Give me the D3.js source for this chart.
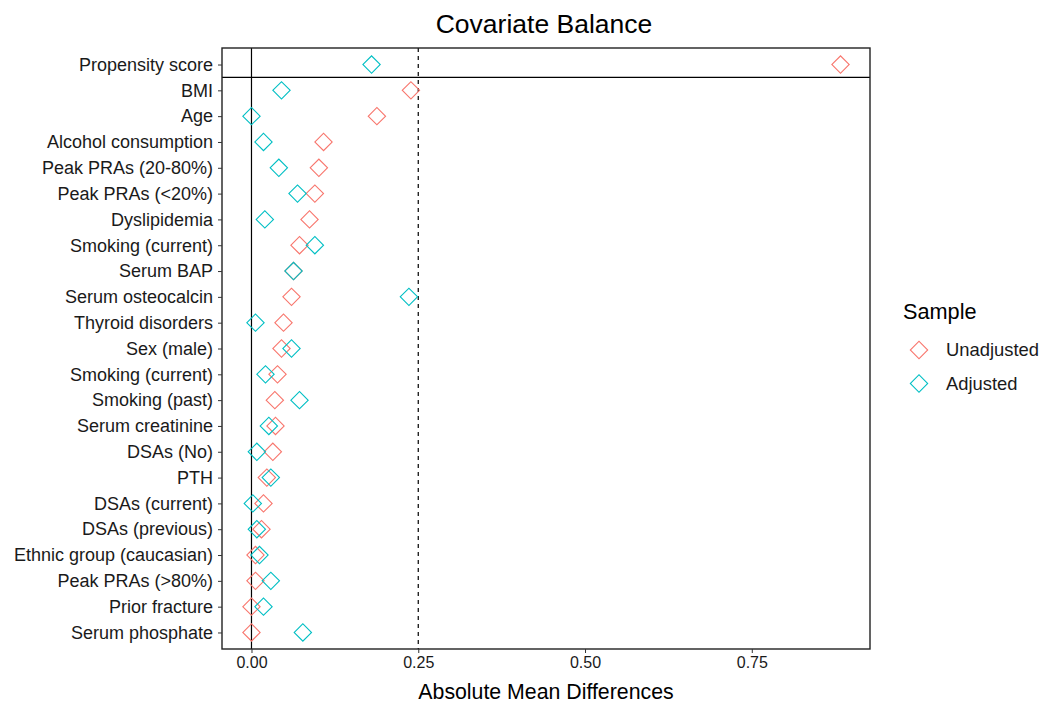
<!DOCTYPE html>
<html>
<head>
<meta charset="utf-8">
<script src="https://cdn.jsdelivr.net/npm/d3@7"></script>
<style>
  body { margin: 0; background: #fff; }
  text { font-family: "Liberation Sans", Arial, sans-serif; }
</style>
</head>
<body>
<svg id="chart" width="1043" height="705"></svg>
<script>
// Covariates, top to bottom
const covariates = [
  "Propensity score", "BMI", "Age", "Alcohol consumption", "Peak PRAs (20-80%)",
  "Peak PRAs (<20%)", "Dyslipidemia", "Smoking (current)", "Serum BAP",
  "Serum osteocalcin", "Thyroid disorders", "Sex (male)", "Smoking (current) ",
  "Smoking (past)", "Serum creatinine", "DSAs (No)", "PTH", "DSAs (current)",
  "DSAs (previous)", "Ethnic group (caucasian)", "Peak PRAs (>80%)",
  "Prior fracture", "Serum phosphate"
];
// Absolute mean differences before and after adjustment
const unadjusted = [0.883, 0.239, 0.188, 0.108, 0.101, 0.095, 0.087, 0.072, 0.063,
  0.060, 0.048, 0.045, 0.039, 0.035, 0.036, 0.032, 0.023, 0.018, 0.015, 0.006,
  0.006, 0.000, 0.000];
const adjusted = [0.180, 0.045, 0.000, 0.018, 0.041, 0.069, 0.020, 0.095, 0.063,
  0.236, 0.006, 0.060, 0.021, 0.072, 0.026, 0.008, 0.029, 0.002, 0.008, 0.012,
  0.029, 0.018, 0.077];
const xTicks = [0, 0.25, 0.5, 0.75];
const threshold = 0.25;
const sampleNames = ["Unadjusted", "Adjusted"];
const sampleColors = ["#F8766D", "#00BFC4"];

const svg = d3.select("#chart");
const panel = { left: 222, right: 870, top: 48, bottom: 649 };

const x = d3.scaleLinear().domain([-0.0442, 0.9272]).range([panel.left, panel.right]);
const y = d3.scalePoint().domain(covariates).range([panel.top, panel.bottom]).padding(0.64);

const diamond = d3.symbol().type(d3.symbolSquare).size(150);

// Title
svg.append("text").attr("x", 544).attr("y", 33).attr("text-anchor", "middle")
  .attr("font-size", 26.5).attr("fill", "#000").text("Covariate Balance");

// Reference lines
svg.append("line").attr("x1", x(0)).attr("x2", x(0))
  .attr("y1", panel.top).attr("y2", panel.bottom)
  .attr("stroke", "#000").attr("stroke-width", 1.2);
svg.append("line").attr("x1", x(threshold)).attr("x2", x(threshold))
  .attr("y1", panel.top).attr("y2", panel.bottom)
  .attr("stroke", "#000").attr("stroke-width", 1.2).attr("stroke-dasharray", "4,4");

// Separator between the propensity score and the covariates
const sepY = (y(covariates[0]) + y(covariates[1])) / 2;
svg.append("line").attr("x1", panel.left).attr("x2", panel.right)
  .attr("y1", sepY).attr("y2", sepY).attr("stroke", "#000").attr("stroke-width", 1.2);

// Points: unadjusted first, adjusted drawn on top
[unadjusted, adjusted].forEach((vals, si) => {
  svg.append("g").selectAll("path").data(vals).join("path")
    .attr("d", diamond)
    .attr("transform", (d, i) => `translate(${x(d)},${y(covariates[i])}) rotate(45)`)
    .attr("fill", "none").attr("stroke", sampleColors[si]).attr("stroke-width", 1.1);
});

// Panel border
svg.append("rect").attr("x", panel.left).attr("y", panel.top)
  .attr("width", panel.right - panel.left).attr("height", panel.bottom - panel.top)
  .attr("fill", "none").attr("stroke", "#222").attr("stroke-width", 1.4);

// Axes
const yAxis = svg.append("g").attr("transform", `translate(${panel.left},0)`)
  .call(d3.axisLeft(y).tickSize(4).tickPadding(5).tickFormat(d => d.trim()));
yAxis.select(".domain").remove();
yAxis.selectAll("text").attr("font-size", 18).attr("fill", "#1a1a1a");
yAxis.selectAll("line").attr("stroke", "#333");

const xAxis = svg.append("g").attr("transform", `translate(0,${panel.bottom})`)
  .call(d3.axisBottom(x).tickValues(xTicks).tickSize(4).tickPadding(4).tickFormat(d3.format(".2f")));
xAxis.select(".domain").remove();
xAxis.selectAll("text").attr("font-size", 16).attr("fill", "#1a1a1a");
xAxis.selectAll("line").attr("stroke", "#333");

svg.append("text").attr("x", 546).attr("y", 699).attr("text-anchor", "middle")
  .attr("font-size", 21.3).attr("fill", "#000").text("Absolute Mean Differences");

// Legend
const legend = svg.append("g");
legend.append("text").attr("x", 903).attr("y", 319).attr("font-size", 21.7)
  .attr("fill", "#000").text("Sample");
sampleNames.forEach((name, i) => {
  const cy = 350 + i * 33.5;
  legend.append("path").attr("d", diamond)
    .attr("transform", `translate(919,${cy}) rotate(45)`)
    .attr("fill", "none").attr("stroke", sampleColors[i]).attr("stroke-width", 1.1);
  legend.append("text").attr("x", 946).attr("y", cy + 6).attr("font-size", 18.4)
    .attr("fill", "#1a1a1a").text(name);
});
</script>
</body>
</html>
